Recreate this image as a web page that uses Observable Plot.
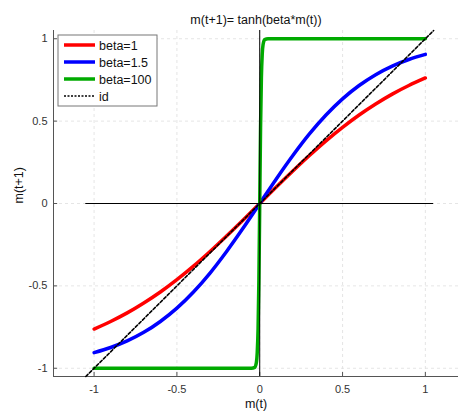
<!DOCTYPE html>
<html>
<head>
<meta charset="utf-8">
<script src="https://cdn.jsdelivr.net/npm/d3@7"></script>
<script src="https://cdn.jsdelivr.net/npm/@observablehq/plot@0.6"></script>
<style>
  html, body { margin: 0; padding: 0; background: #fff; }
  #chart { position: relative; width: 458px; height: 416px; }
  svg { font-family: "Liberation Sans", Arial, Helvetica, sans-serif; }
</style>
</head>
<body>
<div id="chart"></div>
<script>
// ---- data ----
const titleText = "m(t+1)= tanh(beta*m(t))";
const xLabel = "m(t)";
const yLabel = "m(t+1)";
const xTicks = [-1, -0.5, 0, 0.5, 1];
const yTicks = [-1, -0.5, 0, 0.5, 1];

const mGrid = [-1, -0.9, -0.8, -0.7, -0.6, -0.5, -0.4, -0.3, -0.2, -0.1, 0,
               0.1, 0.2, 0.3, 0.4, 0.5, 0.6, 0.7, 0.8, 0.9, 1];
const beta1 = [-0.762, -0.716, -0.664, -0.604, -0.537, -0.462, -0.380, -0.291, -0.197, -0.100, 0,
               0.100, 0.197, 0.291, 0.380, 0.462, 0.537, 0.604, 0.664, 0.716, 0.762];
const beta15 = [-0.905, -0.874, -0.834, -0.782, -0.716, -0.635, -0.537, -0.422, -0.291, -0.149, 0,
                0.149, 0.291, 0.422, 0.537, 0.635, 0.716, 0.782, 0.834, 0.874, 0.905];
const mSteep = [-1, -0.05, -0.03, -0.02, -0.015, -0.01, -0.005, 0, 0.005, 0.01, 0.015, 0.02, 0.03, 0.05, 1];
const beta100 = [-1, -1, -0.995, -0.964, -0.905, -0.762, -0.462, 0, 0.462, 0.762, 0.905, 0.964, 0.995, 1, 1];
const idLine = [-1.05, 1.05];

const seriesNames = ["beta=1", "beta=1.5", "beta=100", "id"];
const seriesColors = ["#ff0000", "#0000ff", "#00aa00", "#000000"];

// ---- build tables ----
const curves = [
  ...mGrid.map((m, i) => ({m, v: beta1[i], s: seriesNames[0]})),
  ...mGrid.map((m, i) => ({m, v: beta15[i], s: seriesNames[1]})),
  ...mSteep.map((m, i) => ({m, v: beta100[i], s: seriesNames[2]}))
];
const idData = idLine.map(m => ({m, v: m}));

const xDom = [-1.245, 1.2];
const yDom = [-1.05, 1.05];
const axisColor = "#555";

const plot = Plot.plot({
  width: 458,
  height: 416,
  marginLeft: 53,
  marginRight: 0,
  marginTop: 30,
  marginBottom: 40,
  style: {fontFamily: '"Liberation Sans", Arial, sans-serif', fontSize: "11px", background: "#fff"},
  x: {domain: xDom, ticks: xTicks},
  y: {domain: yDom, ticks: yTicks},
  color: {domain: seriesNames, range: seriesColors},
  marks: [
    Plot.ruleX(xTicks, {x: d => d, stroke: "#dedede", strokeDasharray: "3,3", strokeWidth: 0.8}),
    Plot.ruleY(yTicks, {y: d => d, stroke: "#dedede", strokeDasharray: "3,3", strokeWidth: 0.8}),
    Plot.ruleX([xDom[0]], {x: d => d, stroke: axisColor, strokeWidth: 1}),
    Plot.ruleY([yDom[0]], {y: d => d, stroke: axisColor, strokeWidth: 1}),
    Plot.ruleX(xTicks, {x: d => d, y1: yDom[0], y2: yDom[0] + 0.025, stroke: axisColor}),
    Plot.ruleY(yTicks, {y: d => d, x1: xDom[0], x2: xDom[0] + 0.025, stroke: axisColor}),
    Plot.axisX({ticks: xTicks, tickSize: 0, tickPadding: 9, tickFormat: d => String(d), label: null, fill: "#333"}),
    Plot.axisY({ticks: yTicks, tickSize: 0, tickPadding: 6, tickFormat: d => String(d), label: null, fill: "#333"}),
    Plot.line(curves, {x: "m", y: "v", z: "s", stroke: "s", strokeWidth: 3.5, curve: "monotone-x"}),
    Plot.line(idData, {x: "m", y: "v", stroke: "#000", strokeWidth: 1.6, strokeDasharray: "3,2"}),
    Plot.ruleY([0], {y: d => d, x1: -1.05, x2: 1.05, stroke: "#000", strokeWidth: 1}),
    Plot.ruleX([0], {x: d => d, y1: -1.05, y2: 1.05, stroke: "#000", strokeWidth: 1}),
    Plot.text([titleText], {frameAnchor: "top", dy: -15, fontSize: 12.5, fill: "#111", text: d => d}),
    Plot.text([xLabel], {frameAnchor: "bottom", dy: 31, fontSize: 12.5, fill: "#111", text: d => d}),
    Plot.text([yLabel], {frameAnchor: "left", dx: -35, rotate: -90, fontSize: 12.5, fill: "#111", text: d => d})
  ]
});

// ---- legend (drawn into the same svg) ----
const svg = d3.select(plot);
const lg = svg.append("g").attr("transform", "translate(58,35)");
lg.append("rect").attr("width", 99).attr("height", 71)
  .attr("fill", "#fff").attr("stroke", "#777").attr("stroke-width", 1);
seriesNames.forEach((name, i) => {
  const yy = 10 + i * 17;
  lg.append("line").attr("x1", 6).attr("x2", 37).attr("y1", yy).attr("y2", yy)
    .attr("stroke", seriesColors[i])
    .attr("stroke-width", i === 3 ? 1.6 : 3.5)
    .attr("stroke-dasharray", i === 3 ? "2,1.5" : null);
  lg.append("text").attr("x", 41).attr("y", yy).attr("dy", "0.36em")
    .attr("text-anchor", "start")
    .attr("font-size", "12.5px").attr("fill", "#111").text(name);
});

document.getElementById("chart").appendChild(plot);
</script>
</body>
</html>
